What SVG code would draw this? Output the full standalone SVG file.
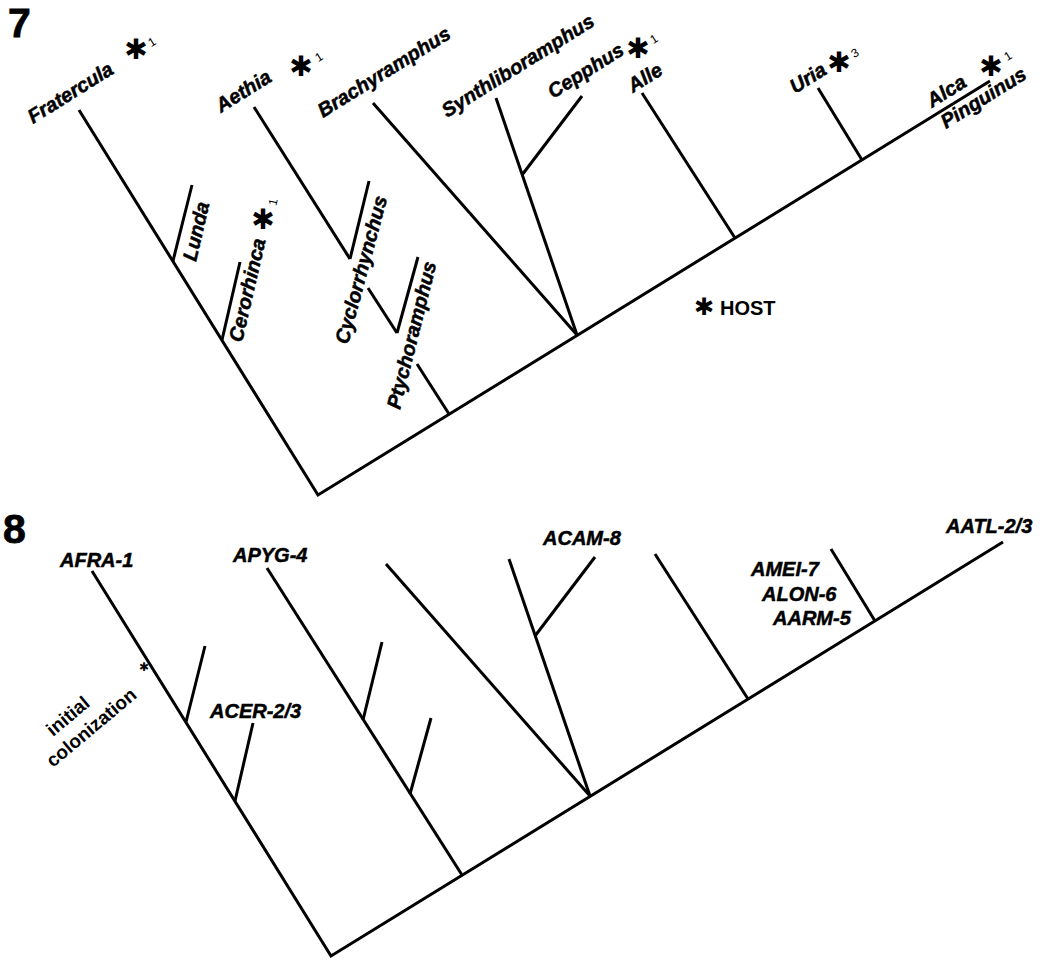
<svg xmlns="http://www.w3.org/2000/svg" width="1048" height="961" viewBox="0 0 1048 961">
  <style>
    .e { stroke: #000; stroke-width: 3; fill: none; stroke-linecap: butt; }
    .lbl { font-family: "Liberation Sans", Arial, sans-serif; font-weight: bold; font-style: italic; font-size: 20px; fill: #000; stroke: #000; stroke-width: 0.5; }
    .num { font-family: "Liberation Sans", Arial, sans-serif; font-weight: bold; font-size: 41px; fill: #000; stroke: #000; stroke-width: 0.8; }
    .host { font-family: "Liberation Sans", Arial, sans-serif; font-weight: bold; font-size: 20px; fill: #000; }
    .ast { font-family: "DejaVu Sans", sans-serif; font-size: 28px; fill: #000; text-anchor: middle; dominant-baseline: central; }
    .sup { font-family: "Liberation Sans", Arial, sans-serif; font-size: 12px; fill: #000; text-anchor: middle; dominant-baseline: central; }
    .note { font-family: "Liberation Sans", Arial, sans-serif; font-weight: bold; font-size: 19px; fill: #000; }
  </style>

  <!-- Figure 7: host tree (alcid genera) -->
  <text class="num" x="8" y="37">7</text>

  <g id="edges7">
    <!-- spines -->
    <polyline class="e" points="79,110 318,495 990,81"/>
    <!-- Fratercula clade side branches -->
    <line class="e" x1="173" y1="261" x2="192" y2="185"/>
    <line class="e" x1="222" y1="340" x2="240" y2="262"/>
    <!-- Aethia line, interrupted where labels cross it -->
    <line class="e" x1="254" y1="107" x2="350" y2="259"/>
    <line class="e" x1="368" y1="288" x2="397" y2="333"/>
    <line class="e" x1="417" y1="364" x2="449" y2="414"/>
    <line class="e" x1="350" y1="259" x2="369" y2="181"/>
    <line class="e" x1="397" y1="333" x2="418" y2="257"/>
    <!-- Brachyramphus / Synthliboramphus / Cepphus -->
    <line class="e" x1="577" y1="335" x2="373" y2="103"/>
    <line class="e" x1="577" y1="335" x2="496" y2="98"/>
    <line class="e" x1="522" y1="175" x2="582" y2="96"/>
    <!-- Alle, Uria -->
    <line class="e" x1="735" y1="238" x2="642" y2="93"/>
    <line class="e" x1="862" y1="160" x2="818" y2="88"/>
  </g>

  <g id="n-fratercula">
    <text class="lbl" transform="translate(33,124) rotate(-32)">Fratercula</text>
    <text class="ast" x="136" y="49">✱</text>
    <text class="sup" transform="translate(152,42) rotate(-32)">1</text>
  </g>
  <g id="n-aethia">
    <text class="lbl" transform="translate(221,113) rotate(-32)">Aethia</text>
    <text class="ast" x="301" y="66">✱</text>
    <text class="sup" transform="translate(319,57) rotate(-32)">1</text>
  </g>
  <g id="n-brachyramphus">
    <text class="lbl" transform="translate(323,118) rotate(-32)">Brachyramphus</text>
  </g>
  <g id="n-synthliboramphus">
    <text class="lbl" transform="translate(447,118) rotate(-32)">Synthliboramphus</text>
  </g>
  <g id="n-cepphus">
    <text class="lbl" transform="translate(553,99) rotate(-32)">Cepphus</text>
    <text class="ast" x="638" y="48">✱</text>
    <text class="sup" transform="translate(654,39) rotate(-32)">1</text>
  </g>
  <g id="n-alle">
    <text class="lbl" transform="translate(633,93) rotate(-32)">Alle</text>
  </g>
  <g id="n-uria">
    <text class="lbl" transform="translate(795,94) rotate(-32)">Uria</text>
    <text class="ast" x="839" y="62">✱</text>
    <text class="sup" transform="translate(855,53) rotate(-32)">3</text>
  </g>
  <g id="n-alca">
    <text class="lbl" transform="translate(932,108) rotate(-32)">Alca</text>
    <text class="ast" x="991" y="66">✱</text>
    <text class="sup" transform="translate(1008,56) rotate(-32)">1</text>
  </g>
  <g id="n-pinguinus">
    <text class="lbl" transform="translate(946,129) rotate(-32)">Pinguinus</text>
  </g>
  <g id="n-lunda">
    <text class="lbl" transform="translate(196,262) rotate(-77)">Lunda</text>
  </g>
  <g id="n-cerorhinca">
    <text class="lbl" transform="translate(242,343) rotate(-77)">Cerorhinca</text>
    <text class="ast" x="263" y="219">✱</text>
    <text class="sup" transform="translate(273,202) rotate(-77)">1</text>
  </g>
  <g id="n-cyclorrhynchus">
    <text class="lbl" transform="translate(348,345) rotate(-75)">Cyclorrhynchus</text>
  </g>
  <g id="n-ptychoramphus">
    <text class="lbl" transform="translate(400,410) rotate(-76)">Ptychoramphus</text>
  </g>
  <g id="n-host-key">
    <text class="ast" x="704" y="307" style="font-size:24px">✱</text>
    <text class="host" x="720" y="315">HOST</text>
  </g>

  <!-- Figure 8: parasite tree mapped on the same topology -->
  <text class="num" x="3" y="543">8</text>

  <g id="edges8" transform="translate(13,461)">
    <polyline class="e" points="79,110 318,495 990,81"/>
    <line class="e" x1="173" y1="261" x2="192" y2="185"/>
    <line class="e" x1="222" y1="340" x2="240" y2="262"/>
    <line class="e" x1="254" y1="107" x2="449" y2="414"/>
    <line class="e" x1="350" y1="259" x2="369" y2="181"/>
    <line class="e" x1="397" y1="333" x2="418" y2="257"/>
    <line class="e" x1="577" y1="335" x2="373" y2="103"/>
    <line class="e" x1="577" y1="335" x2="496" y2="98"/>
    <line class="e" x1="522" y1="175" x2="582" y2="96"/>
    <line class="e" x1="735" y1="238" x2="642" y2="93"/>
    <line class="e" x1="862" y1="160" x2="818" y2="88"/>
  </g>

  <g id="n-afra"><text class="lbl" x="60" y="567">AFRA-1</text></g>
  <g id="n-apyg"><text class="lbl" x="233" y="562">APYG-4</text></g>
  <g id="n-acer"><text class="lbl" x="210" y="718">ACER-2/3</text></g>
  <g id="n-acam"><text class="lbl" x="543" y="545">ACAM-8</text></g>
  <g id="n-amei"><text class="lbl" x="751" y="576">AMEI-7</text></g>
  <g id="n-alon"><text class="lbl" x="762" y="601">ALON-6</text></g>
  <g id="n-aarm"><text class="lbl" x="773" y="625">AARM-5</text></g>
  <g id="n-aatl"><text class="lbl" x="946" y="533">AATL-2/3</text></g>
  <g id="n-colonization">
    <text class="note" transform="translate(53,737) rotate(-40)">initial</text>
    <text class="note" transform="translate(53,768) rotate(-40)">colonization</text>
    <text class="ast" x="144" y="667" style="font-size:12px">✱</text>
  </g>
</svg>
